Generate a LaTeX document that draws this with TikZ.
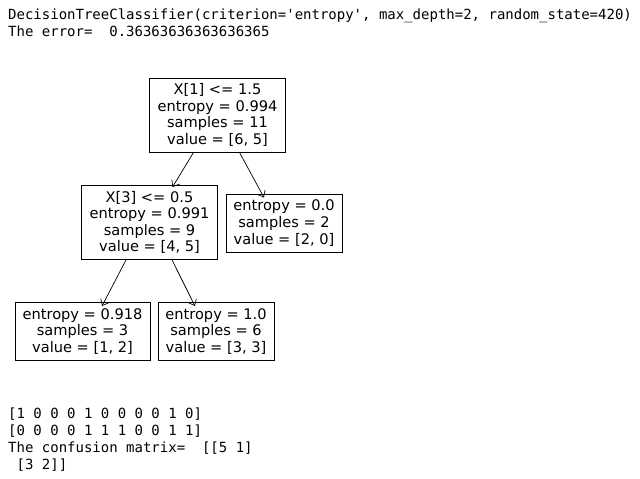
\documentclass[tikz,border=0pt]{standalone}
\usepackage{fontspec}
\usetikzlibrary{arrows.meta}
\setmainfont{DejaVu Sans}
\newfontfamily\consolefont{DejaVu Sans Mono}
\begin{document}
\begin{tikzpicture}[x=1pt,y=-1pt,
  treebox/.style={draw=black, line width=0.9pt, inner sep=0pt, align=center,
    font=\fontsize{14.6}{16.6}\selectfont},
  inner4/.style={treebox, minimum width=136pt, minimum height=74pt},
  leaf/.style={treebox, minimum height=58pt},
  console/.style={anchor=base west, inner sep=0pt, font=\consolefont\fontsize{14}{17}\selectfont},
  edge/.style={-{Straight Barb[length=5.5pt, width=9pt, line width=0.7pt]}, line width=0.7pt}]
\useasboundingbox (0,0) rectangle (640,479);
\fill[white] (0,0) rectangle (640,479);

\node[console] (t1) at (8,19.5) {DecisionTreeClassifier(criterion='entropy', max\_depth=2, random\_state=420)};
\node[console] (t2) at (8,36.5) {The error=\ \ 0.36363636363636365};

\node[inner4] (root) at (217.5,115) {X[1] <= 1.5\\entropy = 0.994\\samples = 11\\value = [6, 5]};
\node[inner4] (n1) at (149.5,222.5) {X[3] <= 0.5\\entropy = 0.991\\samples = 9\\value = [4, 5]};
\node[leaf, minimum width=116pt] (lA) at (284,223) {entropy = 0.0\\samples = 2\\value = [2, 0]};
\node[leaf, minimum width=135pt] (lL) at (82.5,331.5) {entropy = 0.918\\samples = 3\\value = [1, 2]};
\node[leaf, minimum width=116pt] (lR) at (216,331.5) {entropy = 1.0\\samples = 6\\value = [3, 3]};

\draw[edge] ([xshift=-24pt]root.south) -- ([xshift=23pt,yshift=-2pt]n1.north);
\draw[edge] ([xshift=22pt]root.south) -- ([xshift=-20pt,yshift=-4pt]lA.north);
\draw[edge] ([xshift=-23.5pt]n1.south) -- ([xshift=19.5pt,yshift=-4pt]lL.north);
\draw[edge] ([xshift=22.5pt]n1.south) -- ([xshift=-21pt,yshift=-4pt]lR.north);

\node[console] (b1) at (8,418) {[1 0 0 0 1 0 0 0 0 1 0]};
\node[console] (b2) at (8,435) {[0 0 0 0 1 1 1 0 0 1 1]};
\node[console] (b3) at (8,452) {The confusion matrix=\ \ [[5 1]};
\node[console] (b4) at (8,469) {\ [3 2]]};
\end{tikzpicture}
\end{document}
